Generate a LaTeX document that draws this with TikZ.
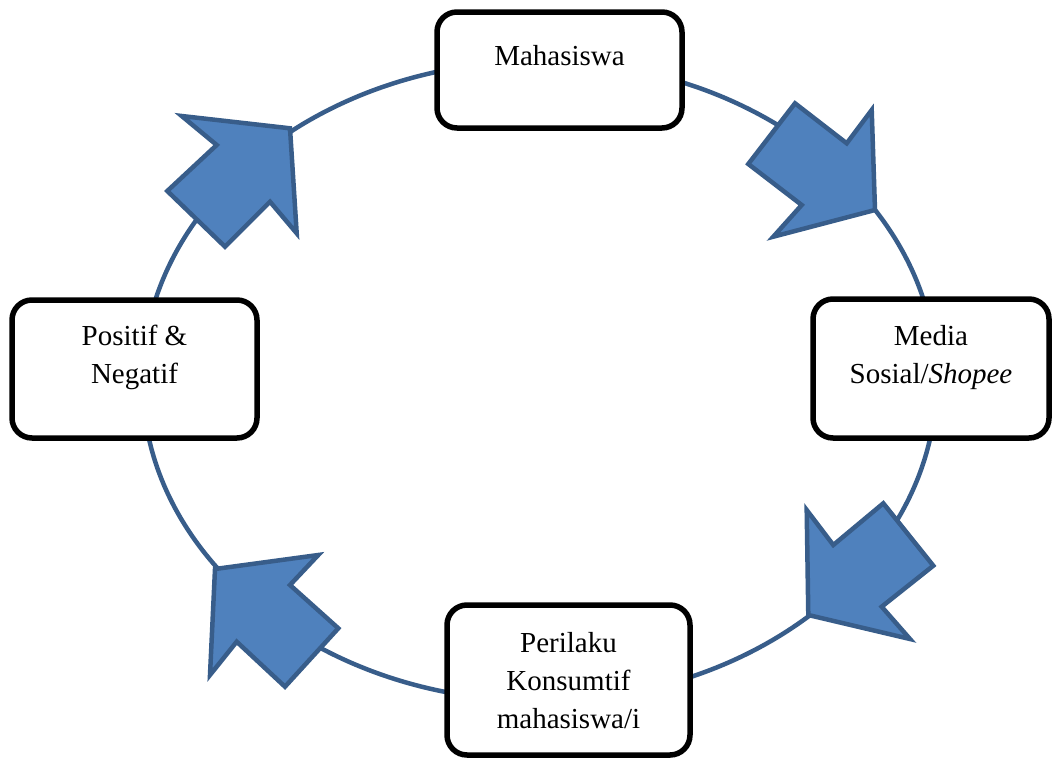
\documentclass[tikz,border=0pt]{standalone}
\usepackage{fontspec}
\setmainfont{Liberation Serif}
\definecolor{arrfill}{HTML}{4F81BD}
\definecolor{arrline}{HTML}{385D8A}
\begin{document}
\begin{tikzpicture}[x=1pt,y=-1pt,
  boxst/.style={draw=black,line width=5.5pt,fill=white,rounded corners=20pt,inner sep=0pt},
  txt/.style={font=\fontsize{29}{38}\selectfont,align=center,anchor=base,inner sep=0pt},
  blockarrow/.style={fill=arrfill,draw=arrline,line width=4.5pt,line join=miter},
  ring/.style={draw=arrline,line width=4.5pt}]
\useasboundingbox (0,0) rectangle (1052,758);
\coordinate (c) at (539.5,381);
\draw[ring] (c) ellipse [x radius=397, y radius=320];
% boxes
\node[boxst,minimum width=245pt,minimum height=116pt] (mhs) at (559.5,70) {};
\node[txt] (mhsT) at (559.5,65) {Mahasiswa};
\node[boxst,minimum width=236pt,minimum height=139pt] (med) at (931,368.5) {};
\node[txt] (medT) at (931,383) {Media\\Sosial/\textit{Shopee}};
\node[boxst,minimum width=245pt,minimum height=138pt] (pos) at (134.5,369) {};
\node[txt] (posT) at (134.5,383) {Positif \&\\Negatif};
\node[boxst,minimum width=243pt,minimum height=150pt] (per) at (568.5,680) {};
\node[txt] (perT) at (568.5,728) {Perilaku\\Konsumtif\\mahasiswa/i};
% block arrows
\draw[blockarrow] (871.7,110) -- (875,210) -- (773.3,236.7) -- (801.7,205) -- (748.3,164) -- (795,103.3) -- (846.7,143.3) -- cycle;
\draw[blockarrow] (806.7,510) -- (833.3,545) -- (883.3,503.3) -- (933.3,565.7) -- (881.7,606.7) -- (910,639) -- (808.3,615) -- cycle;
\draw[blockarrow] (215,569) -- (318.3,555) -- (290,585) -- (338.3,628.3) -- (285,686.7) -- (236.7,641.7) -- (210,675) -- cycle;
\draw[blockarrow] (181.7,116) -- (290,128.3) -- (296.7,233.3) -- (270,201.7) -- (225,246.7) -- (167.3,191) -- (216.7,145) -- cycle;
\end{tikzpicture}
\end{document}
